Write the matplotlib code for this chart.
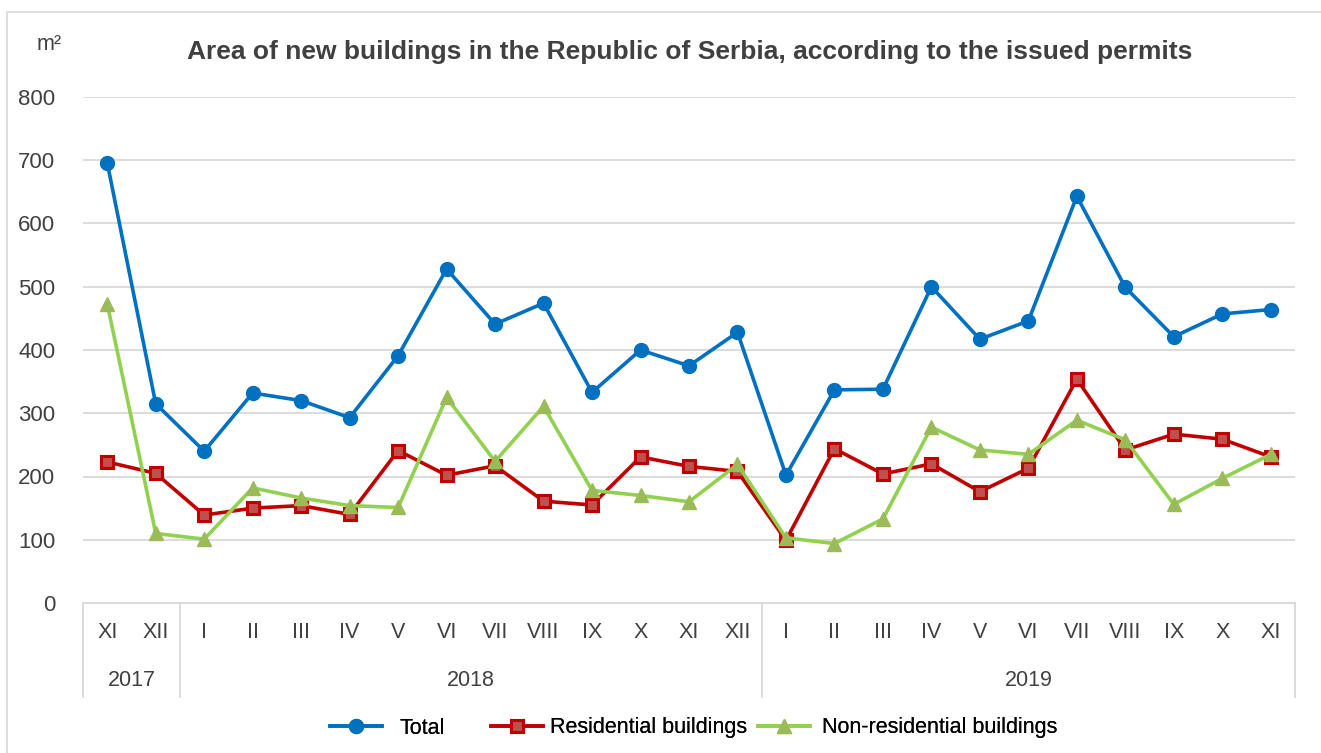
import matplotlib
matplotlib.use("Agg")
import matplotlib.pyplot as plt
from matplotlib.lines import Line2D
from matplotlib.patches import Rectangle
import matplotlib.transforms as mtransforms

plt.rcParams['font.family'] = ['Liberation Sans', 'DejaVu Sans']

months = ["XI", "XII", "I", "II", "III", "IV", "V", "VI", "VII", "VIII", "IX", "X", "XI", "XII",
          "I", "II", "III", "IV", "V", "VI", "VII", "VIII", "IX", "X", "XI"]
years = ["2017"] * 2 + ["2018"] * 12 + ["2019"] * 11

total = [696, 315, 240, 332, 320, 293, 391, 528, 441, 474, 333, 400, 375, 428,
         202, 337, 338, 500, 417, 446, 643, 499, 421, 457, 464]
residential = [223, 205, 139, 150, 154, 140, 241, 202, 217, 161, 155, 231, 216, 208,
               99, 244, 204, 220, 176, 213, 354, 242, 267, 259, 231]
non_residential = [473, 110, 101, 182, 166, 154, 151, 325, 224, 311, 178, 170, 160, 219,
                   103, 94, 133, 278, 242, 235, 289, 258, 156, 197, 235]

series_names = ["Total", "Residential buildings", "Non-residential buildings"]
title = "Area of new buildings in the Republic of Serbia, according to the issued permits"

W, H = 1321, 753
fig = plt.figure(figsize=(W / 100, H / 100), dpi=100)
ax = fig.add_axes([83 / W, 1 - 603 / H, (1295 - 83) / W, (603 - 97) / H])

# outer border
fig.patches.append(Rectangle((7 / W, -0.01), 1.02 - 7 / W, 1 - 12 / H + 0.01,
                             transform=fig.transFigure, fill=False,
                             edgecolor="#d9d9d9", linewidth=1.2))

x = list(range(len(months)))
lw = 2.6
ax.plot(x, total, color="#0070C0", lw=lw, marker="o", ms=10,
        markerfacecolor="#0070C0", markeredgecolor="#0070C0", zorder=3)
ax.plot(x, residential, color="#C00000", lw=lw, marker="s", ms=9,
        markerfacecolor="#C0504D", markeredgecolor="#C00000", markeredgewidth=2.2, zorder=4)
ax.plot(x, non_residential, color="#92D050", lw=lw, marker="^", ms=10,
        markerfacecolor="#9BBB59", markeredgecolor="#9BBB59", zorder=5)

ax.set_xlim(-0.5, len(months) - 0.5)
ax.set_ylim(0, 800)
ax.set_yticks(range(0, 801, 100))
ax.grid(axis="y", color="#d9d9d9", lw=1.3)
ax.set_axisbelow(True)
for s in ["top", "right", "left"]:
    ax.spines[s].set_visible(False)
ax.spines["bottom"].set_color("#d9d9d9")
ax.spines["bottom"].set_linewidth(1.3)
ax.tick_params(axis="y", length=0, labelsize=16, labelcolor="#404040", pad=20)
ax.set_xticks(x)
ax.set_xticklabels(months)
ax.tick_params(axis="x", length=0, labelsize=15.5, labelcolor="#404040", pad=14)

# year groups
trans = mtransforms.blended_transform_factory(ax.transData, ax.transAxes)
bottom = -(697 - 603) / (603 - 97)
groups = []
for i, yv in enumerate(years):
    if not groups or groups[-1][0] != yv:
        groups.append([yv, i, i])
    else:
        groups[-1][2] = i
for yv, a, b in groups:
    ax.text((a + b) / 2, -(681 - 603) / (603 - 97), yv, transform=trans,
            ha="center", va="center", fontsize=15.5, color="#404040")
bounds = [groups[0][1] - 0.5] + [g[2] + 0.5 for g in groups]
for bx in bounds:
    ax.plot([bx, bx], [0, bottom], transform=trans, color="#d9d9d9", lw=1.3, clip_on=False)

fig.text(690 / W, 1 - 52 / H, title, ha="center", va="center",
         fontsize=19, fontweight="bold", color="#404040")
fig.text(49 / W, 1 - 45 / H, "m²", ha="center", va="center", fontsize=15.5, color="#404040")

handles = [
    Line2D([], [], color="#0070C0", lw=lw, marker="o", ms=10),
    Line2D([], [], color="#C00000", lw=lw, marker="s", ms=9,
           markerfacecolor="#C0504D", markeredgecolor="#C00000", markeredgewidth=2.2),
    Line2D([], [], color="#92D050", lw=lw, marker="^", ms=10,
           markerfacecolor="#9BBB59", markeredgecolor="#9BBB59"),
]
legend_x = [330, 491, 758]
text_pads = [0.85, 0.35, 0.55]
for h, name, lx, tp in zip(handles, series_names, legend_x, text_pads):
    leg = fig.legend([h], [name], loc="center left", bbox_to_anchor=(lx / W, 1 - 728 / H),
                     frameon=False, fontsize=15.5, handlelength=2.4, handletextpad=tp,
                     borderpad=0, borderaxespad=0)
    fig.add_artist(leg)

fig.savefig("out.png", dpi=100)
